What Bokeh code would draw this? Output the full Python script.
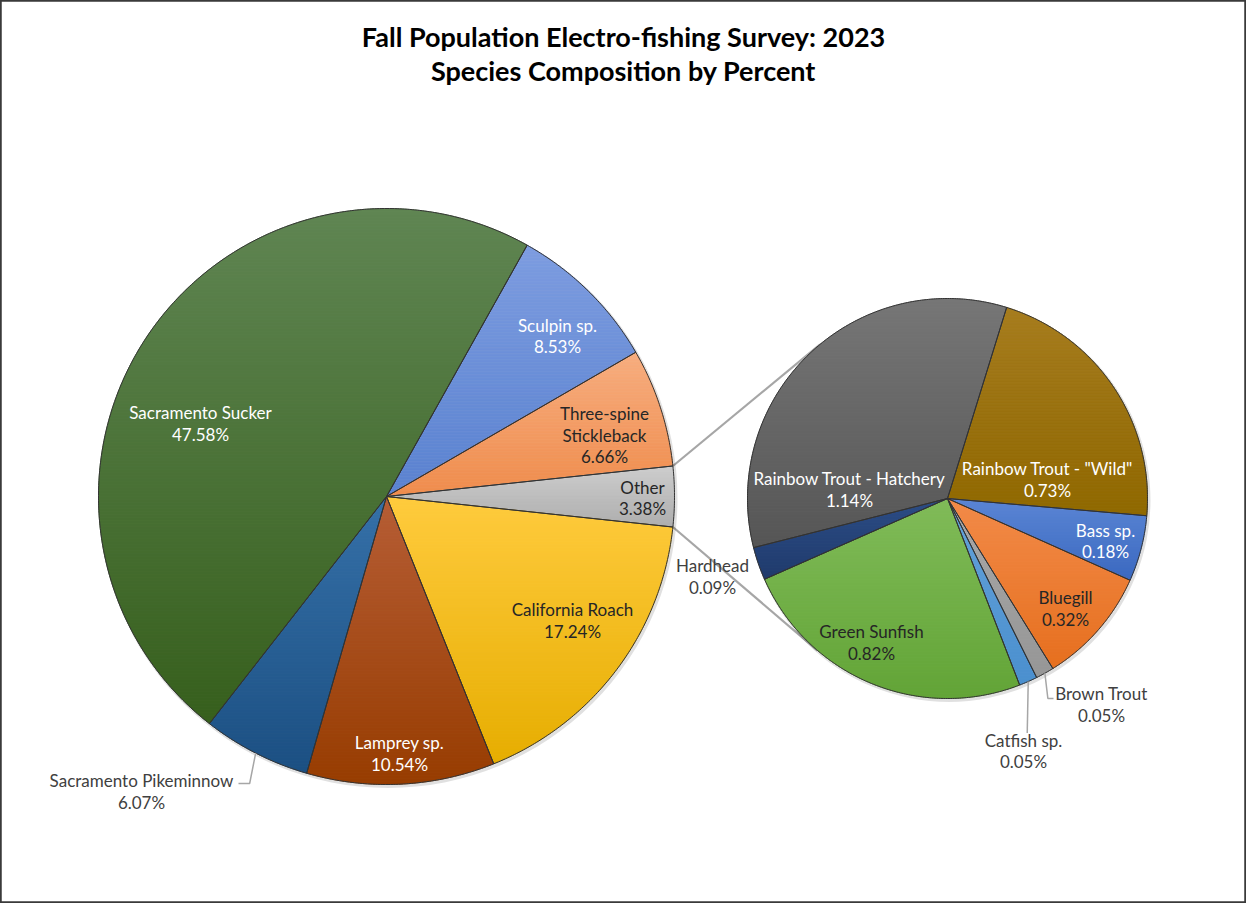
import numpy as np
from bokeh.plotting import figure
from bokeh.models import Range1d
from bokeh.core.properties import value
from bokeh.embed import file_html
from bokeh.resources import INLINE

# ---------------- data ----------------
title_lines = ["Fall Population Electro-fishing Survey: 2023", "Species Composition by Percent"]

main_names = ["Sculpin sp.", "Three-spine\nStickleback", "Other", "California Roach",
              "Lamprey sp.", "Sacramento Pikeminnow", "Sacramento Sucker"]
main_pct = [8.53, 6.66, 3.38, 17.24, 10.54, 6.07, 47.58]

other_names = ["Rainbow Trout - \"Wild\"", "Bass sp.", "Bluegill", "Brown Trout",
               "Catfish sp.", "Green Sunfish", "Hardhead", "Rainbow Trout - Hatchery"]
other_pct = [0.73, 0.18, 0.32, 0.05, 0.05, 0.82, 0.09, 1.14]

# ---------------- styles / layout ----------------
main_colors = [("#7d9ce0", "#5a82d0"), ("#f7ad7f", "#ef8c4c"), ("#cdcdcd", "#aeaeae"),
               ("#ffcb3d", "#e6ad00"), ("#b65d35", "#973c00"), ("#3570a8", "#1b4f82"),
               ("#5f8552", "#365f1c")]
main_text_colors = ["white", "#262626", "#262626", "#262626", "white", "#404040", "white"]
main_label_pos = [(557, 335.5), (604, 434.5), (642, 497.5), (572, 620), (399, 753),
                  (141, 791), (200, 423)]

other_colors = [("#a67c1e", "#8f6800"), ("#5a85d4", "#3a68c0"), ("#f28a48", "#e66f1e"),
                ("#a8a8a8", "#969696"), ("#64a2da", "#4a8fce"), ("#80bb58", "#62a436"),
                ("#2b4c85", "#1f3a6c"), ("#767676", "#555555")]
other_text_colors = ["white", "white", "#262626", "#404040", "#404040", "#262626", "#404040", "white"]
other_label_pos = [(1047, 479), (1105, 540.5), (1065, 608), (1101, 704), (1023, 750.5),
                   (871, 642), (712, 576), (849, 489)]

C1 = (386.0, 496.0); R1 = 288.0
C2 = (947.0, 498.0); R2 = 200.0
OTHER_IDX = 2
START2 = 17.2
LINE_H = 21.5

W, H = 1246, 903
p = figure(width=W, height=H, output_backend="svg", toolbar_location=None,
           x_range=Range1d(0, W), y_range=Range1d(H, 0),
           x_axis_location=None, y_axis_location=None, min_border=0)
p.grid.visible = False
p.background_fill_color = "white"
p.border_fill_color = "white"
p.outline_line_color = "#3a3a3a"
p.outline_line_width = 2.5


def hex2rgb(h):
    h = h.lstrip("#")
    return np.array([int(h[i:i + 2], 16) for i in (0, 2, 4)], dtype=float)


def lerp_color(c0, c1, t):
    c = hex2rgb(c0) * (1 - t) + hex2rgb(c1) * t
    return "#%02x%02x%02x" % tuple(int(round(v)) for v in c)


def wedge_poly(c, r, a0, a1):
    n = max(int(abs(a1 - a0) * 2), 8)
    th = np.radians(np.linspace(a0, a1, n))
    xs = [c[0]] + list(c[0] + r * np.sin(th))
    ys = [c[1]] + list(c[1] - r * np.cos(th))
    return xs, ys


def clip_band(xs, ys, y0, y1):
    pts = list(zip(xs, ys))
    for sign, lim in ((1, y0), (-1, y1)):
        out = []
        n = len(pts)
        for i in range(n):
            P = pts[i]; Q = pts[(i + 1) % n]
            fp = sign * (P[1] - lim); fq = sign * (Q[1] - lim)
            if fp >= 0:
                out.append(P)
            if (fp >= 0) != (fq >= 0):
                t = fp / (fp - fq)
                out.append((P[0] + t * (Q[0] - P[0]), P[1] + t * (Q[1] - P[1])))
        pts = out
        if not pts:
            break
    return pts


def draw_pie(c, r, pcts, start, colors):
    total = sum(pcts)
    angles = []
    a = start
    bx, by, bc = [], [], []
    ox, oy = [], []
    for v, (ct, cb) in zip(pcts, colors):
        a1 = a + v / total * 360.0
        angles.append((a, a1))
        xs, ys = wedge_poly(c, r, a, a1)
        ymin, ymax = min(ys), max(ys)
        step = 3.0
        y = ymin
        while y < ymax:
            y2 = min(y + step, ymax)
            pts = clip_band(xs, ys, y, y2)
            if len(pts) >= 3:
                t = ((y + y2) / 2 - ymin) / max(ymax - ymin, 1e-6)
                bx.append([q[0] for q in pts]); by.append([q[1] for q in pts])
                bc.append(lerp_color(ct, cb, t))
            y = y2
        ox.append(xs); oy.append(ys)
        a = a1
    # soft shadow
    p.circle(x=[c[0] + 1.5], y=[c[1] + 2], radius=r + 1.5, fill_color="#000000",
             fill_alpha=0.12, line_color=None)
    p.patches(xs=bx, ys=by, fill_color=bc, line_color=bc, line_width=0.8)
    p.patches(xs=ox, ys=oy, fill_color=None, line_color="#333333", line_width=1)
    return angles


def draw_labels(names, pcts, pos, tcolors):
    tx, ty, tt, tcol = [], [], [], []
    for name, v, (x, y), col in zip(names, pcts, pos, tcolors):
        lines = name.split("\n") + ["%.2f%%" % v]
        y0 = y - (len(lines) - 1) * LINE_H / 2
        for k, ln in enumerate(lines):
            tx.append(x); ty.append(y0 + k * LINE_H); tt.append(ln); tcol.append(col)
    p.text(x=tx, y=ty, text=tt, text_color=tcol, text_align="center",
           text_baseline="middle", text_font=value("Lato"), text_font_size="17px")


# connector lines (tangents from Other slice edges to the second pie)
total1 = sum(main_pct)
cum_before_other = sum(main_pct[:OTHER_IDX])
other_span = main_pct[OTHER_IDX] / total1 * 360.0
start1 = 90.0 - (cum_before_other / total1 * 360.0 + other_span / 2)
a_top = start1 + cum_before_other / total1 * 360.0
a_bot = a_top + other_span
lx, ly = [], []
for a, side in ((a_top, -1), (a_bot, 1)):
    px = C1[0] + R1 * np.sin(np.radians(a)); py = C1[1] - R1 * np.cos(np.radians(a))
    dx, dy = C2[0] - px, C2[1] - py
    d = np.hypot(dx, dy)
    base = np.arctan2(dy, dx)
    off = np.arcsin(R2 / d)
    ang = base + side * off
    L = np.sqrt(d * d - R2 * R2)
    lx.append([px, px + L * np.cos(ang)]); ly.append([py, py + L * np.sin(ang)])
p.multi_line(xs=lx, ys=ly, line_color="#a6a6a6", line_width=2.2)

ang1 = draw_pie(C1, R1, main_pct, start1, main_colors)
ang2 = draw_pie(C2, R2, other_pct, START2, other_colors)

# leader lines for labels outside the pies
def edge_point(c, r, a0a1):
    m = np.radians((a0a1[0] + a0a1[1]) / 2)
    return c[0] + r * np.sin(m), c[1] - r * np.cos(m)

lead_x, lead_y = [], []
ex, ey = edge_point(C1, R1, ang1[5])
lx0, ly0 = main_label_pos[5]
lead_x.append([ex, ex - 6, lx0 + 97]); lead_y.append([ey, ly0 - 8, ly0 - 8])
ex, ey = edge_point(C2, R2, ang2[3])
lx0, ly0 = other_label_pos[3]
lead_x.append([ex, ex + 3, lx0 - 48]); lead_y.append([ey, ly0 - 6, ly0 - 6])
ex, ey = edge_point(C2, R2, ang2[4])
lx0, ly0 = other_label_pos[4]
lead_x.append([ex, ex - 1]); lead_y.append([ey, ly0 - 18])
p.multi_line(xs=lead_x, ys=lead_y, line_color="#a6a6a6", line_width=1.5)

draw_labels(main_names, main_pct, main_label_pos, main_text_colors)
draw_labels(other_names, other_pct, other_label_pos, other_text_colors)

p.text(x=[623, 623], y=[36, 70], text=title_lines, text_align="center", text_baseline="middle",
       text_font=value("Lato"), text_font_style="bold", text_font_size="27px", text_color="black")

open("out.html", "w").write(file_html(p, INLINE))
